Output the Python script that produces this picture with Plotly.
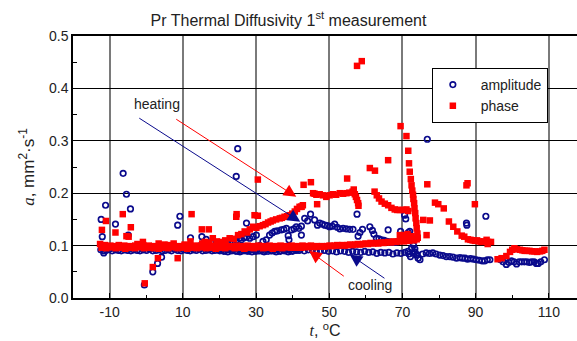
import plotly.graph_objects as go

# ---------------- data ----------------
# amplitude: heating baseline
amp_base_x = [-12.4,-11.6,-10.9,-10.1,-9.3,-8.4,-7.6,-6.8,-5.9,-5.1,
              -4.2,-3.4,-2.5,-1.7,-0.8,0.1,1.0,1.8,2.7,3.5,
              4.4,5.2,6.1,6.9,7.8,8.6,9.5,10.3,11.2,12.0,
              12.9,13.7,14.6,15.4,16.3,17.1,18.0,18.8,19.7,20.5,
              21.4,22.2,23.1,23.9,24.8,25.6,26.5,27.3,28.2,29.0,
              29.9,30.7,31.6,32.4,33.3,34.1,35.0,35.8,36.7,37.5,
              38.4,39.2,40.1,40.9,41.8]
amp_base_y = [0.092,0.090,0.091,0.093,0.090,0.092,0.091,0.090,0.092,0.091,
              0.090,0.092,0.091,0.090,0.092,0.091,0.093,0.090,0.091,0.092,
              0.090,0.091,0.092,0.090,0.093,0.091,0.090,0.092,0.091,0.090,
              0.092,0.091,0.093,0.090,0.091,0.092,0.090,0.091,0.092,0.091,
              0.090,0.092,0.091,0.093,0.090,0.091,0.092,0.090,0.091,0.092,
              0.091,0.090,0.092,0.091,0.093,0.090,0.091,0.092,0.090,0.091,
              0.092,0.091,0.090,0.092,0.091]
# amplitude: cooling baseline
amp_cool_x = [74.0,72.9,71.8,70.7,69.6,68.5,67.4,66.3,65.2,64.1,63.0,
              61.9,60.8,59.7,58.6,57.5,56.4,55.3,54.2,53.1,52.0,
              50.9,49.8,48.7,47.6,46.5,45.4,44.3,43.2,42.1,41.0,
              39.9,38.8,37.7,36.6,35.5,34.4,33.3,32.2,31.1,30.0,
              28.9,27.8,26.7,25.6,24.5,23.4,22.3,21.2,20.1]
amp_cool_y = [0.083,0.086,0.084,0.087,0.085,0.086,0.084,0.087,0.086,0.087,0.085,
              0.088,0.087,0.089,0.087,0.088,0.089,0.087,0.089,0.090,0.088,
              0.090,0.089,0.091,0.090,0.089,0.091,0.092,0.090,0.093,0.091,
              0.089,0.088,0.090,0.089,0.088,0.090,0.089,0.088,0.090,0.089,
              0.088,0.089,0.090,0.088,0.089,0.090,0.088,0.089,0.090]
amp_drop = [(73.0,0.101),(73.4,0.094),(73.4,0.088),(73.8,0.082),(74.3,0.076),
            (74.8,0.073),(72.5,0.095),(71.5,0.089),(72.2,0.079)]
amp_tail = [(75.5,0.084),(76.5,0.086),(77.4,0.085),(78.3,0.086),(79.2,0.084),
            (80.2,0.082),(81.1,0.081),(82.0,0.079),(82.9,0.079),(83.8,0.078),
            (84.8,0.076),(85.7,0.077),(86.4,0.076),(87.1,0.076),(87.8,0.074),
            (88.6,0.075),(89.4,0.074),(90.2,0.073),(91.0,0.072),(91.8,0.071),
            (92.5,0.071),(93.2,0.073),(93.9,0.073),(96.8,0.073),(97.5,0.069),
            (98.4,0.064),(99.1,0.068),(99.8,0.071),(100.5,0.069),(101.2,0.065),
            (101.9,0.069),(102.6,0.069),(103.3,0.069),(104.0,0.069),(104.7,0.068),
            (105.3,0.069),(106.0,0.069),(106.6,0.066),(107.1,0.066),(107.8,0.069),
            (108.8,0.073)]
amp_rise = [(14.8,0.100),(15.5,0.104),(16.4,0.112),(17.3,0.101),(18.2,0.104),
            (19.1,0.103),(20.0,0.105),(20.9,0.104),(21.9,0.107),(22.8,0.106),
            (23.7,0.107),(24.6,0.110),(25.5,0.114),(26.0,0.111),(26.7,0.115),
            (27.4,0.116),(28.3,0.114),(29.2,0.117),(30.1,0.120),(31.0,0.100),
            (31.9,0.108),(32.8,0.111),(33.7,0.120),(34.4,0.124),(35.1,0.127),
            (35.8,0.128),(36.9,0.130),(37.6,0.131),(38.3,0.133),(38.8,0.119),
            (39.0,0.111),(39.7,0.130),(40.4,0.132),(41.0,0.136),(41.7,0.133),
            (42.4,0.137),(42.4,0.120),(43.3,0.152),(44.1,0.147),(44.9,0.160),
            (46.0,0.149),(46.8,0.139),(47.4,0.143),(48.1,0.141),(48.8,0.139),
            (49.5,0.138),(50.1,0.136),(50.8,0.137),(51.5,0.141),(52.2,0.135),
            (52.9,0.132),(53.8,0.133),(54.7,0.132),(55.6,0.131),(56.5,0.131),
            (57.9,0.118),(58.4,0.125),(59.1,0.131),(61.1,0.136),(61.8,0.129),
            (62.2,0.122),(62.9,0.114),(63.6,0.113),(64.3,0.111),(65.0,0.110),
            (65.7,0.108),(66.1,0.130),(66.4,0.107),(67.2,0.106),(67.9,0.106),
            (68.6,0.107),(69.5,0.127),(70.2,0.117),(70.6,0.158),(70.9,0.151),
            (71.6,0.125),(72.0,0.127),(72.2,0.118)]
amp_out = [(-12.3,0.150),(-12.0,0.117),(-11.6,0.086),(-11.1,0.177),(-8.4,0.141),
           (-6.3,0.238),(-5.4,0.198),(-4.9,0.120),(-4.3,0.170),(-0.5,0.025),
           (1.8,0.050),(3.1,0.066),(4.2,0.078),(8.6,0.139),(9.2,0.156),
           (12.1,0.115),(15.2,0.117),(24.6,0.232),(25.0,0.285),(27.4,0.143),
           (76.8,0.303),(87.5,0.143),(87.6,0.139),(92.8,0.156),(57.6,0.160)]

# phase: heating baseline (two passes)
ph_base_x = [-12.6,-12.0,-11.3,-10.5,-9.8,-9.0,-8.3,-7.5,-6.8,-6.0,
             -5.3,-4.5,-3.8,-3.0,-2.3,-1.5,-0.8,0.0,0.7,1.5,
             2.2,3.0,3.7,4.5,5.2,6.0,6.7,7.5,8.2,9.0,
             9.7,10.5,11.2,12.0,12.7,13.5,14.2,15.0,15.7,16.5,
             17.2,18.0,18.7,19.5,20.2,21.0,21.7,22.5,23.2,24.0,
             24.7,25.5,26.2,27.0,27.7,28.5,29.2,30.0,30.7,31.5,
             32.2,33.0,33.7,34.5,35.2,36.0,36.7,37.5,38.2,39.0,
             39.7,40.5,41.2,42.0,42.7,43.5,44.2,45.0]
ph_base_y = [0.103,0.099,0.101,0.098,0.100,0.097,0.099,0.101,0.098,0.100,
             0.097,0.099,0.098,0.100,0.097,0.099,0.101,0.098,0.100,0.097,
             0.099,0.098,0.100,0.097,0.099,0.101,0.098,0.100,0.097,0.099,
             0.098,0.100,0.097,0.099,0.098,0.100,0.099,0.097,0.100,0.098,
             0.099,0.097,0.100,0.098,0.099,0.097,0.100,0.098,0.099,0.097,
             0.100,0.098,0.099,0.097,0.100,0.098,0.099,0.097,0.100,0.098,
             0.099,0.097,0.100,0.098,0.099,0.097,0.100,0.098,0.099,0.097,
             0.100,0.098,0.099,0.097,0.100,0.098,0.099,0.100]
ph_base2_x = [-12.2,-10.9,-9.6,-8.3,-7.0,-5.7,-4.4,-3.1,-1.8,-0.5,
              0.8,2.1,3.4,4.7,6.0,7.3,8.6,9.9,11.2,12.5,
              13.8,15.1,16.4,17.7,19.0,20.3,21.6,22.9,24.2,25.5,
              26.8,28.1,29.4,30.7,32.0,33.3,34.6,35.9,37.2,38.5,
              39.8]
ph_base2_y = [0.096,0.095,0.097,0.095,0.096,0.094,0.096,0.095,0.097,0.095,
              0.096,0.095,0.094,0.096,0.095,0.097,0.095,0.096,0.094,0.096,
              0.095,0.097,0.095,0.096,0.094,0.096,0.095,0.097,0.095,0.096,
              0.094,0.096,0.095,0.097,0.095,0.096,0.094,0.096,0.095,0.097,
              0.096]
# phase: cooling line
ph_cool_x = [73.9,73.2,72.5,71.8,71.1,70.4,69.7,69.0,68.3,67.6,
             66.9,66.2,65.5,64.8,64.1,63.4,62.7,62.0,61.3,60.6,
             59.9,59.2,58.5,57.8,57.1,56.4,55.7,55.0,54.3,53.6,
             52.9,52.2,51.5,50.8,50.1,49.4,48.7,48.0,47.3,46.6,
             45.9,45.2,44.5,43.8,43.1,42.4,41.7,41.0,40.3,39.6]
ph_cool_y = [0.112,0.110,0.111,0.109,0.110,0.108,0.109,0.108,0.107,0.108,
             0.106,0.107,0.106,0.105,0.106,0.104,0.105,0.104,0.105,0.103,
             0.104,0.103,0.102,0.103,0.102,0.101,0.102,0.101,0.100,0.101,
             0.100,0.101,0.100,0.099,0.100,0.099,0.098,0.099,0.098,0.099,
             0.097,0.098,0.097,0.098,0.097,0.096,0.097,0.096,0.097,0.096]
ph_rise = [(15.3,0.104),(16.0,0.107),(17.1,0.106),(18.2,0.114),(19.3,0.108),
           (20.5,0.107),(21.6,0.110),(22.8,0.114),(23.9,0.113),(25.1,0.120),
           (26.0,0.122),(26.9,0.127),(27.6,0.125),(28.3,0.131),(29.2,0.136),
           (30.1,0.134),(31.0,0.137),(31.9,0.139),(32.6,0.141),(33.3,0.144),
           (34.0,0.146),(34.6,0.148),(35.5,0.150),(36.5,0.152),(37.1,0.153),
           (37.8,0.155),(38.5,0.156),(39.2,0.158),(39.9,0.161),(40.6,0.165),
           (41.2,0.170),(41.9,0.174),(42.4,0.174),(42.8,0.177)]
ph_upper = [(45.6,0.200),(46.0,0.199),(46.5,0.197),(47.4,0.198),(48.3,0.196),
            (49.2,0.193),(50.1,0.196),(51.0,0.198),(51.9,0.197),(52.9,0.200),
            (53.8,0.199),(54.7,0.200),(55.5,0.201),(56.4,0.203),(56.7,0.207),
            (57.0,0.198),(57.3,0.193),(57.6,0.187),(57.9,0.181),(58.0,0.176),
            (62.4,0.203),(63.0,0.196),(63.6,0.190),(64.3,0.184),(65.2,0.180),
            (66.1,0.177),(67.0,0.172),(67.9,0.169),(68.6,0.168),(69.3,0.168),
            (70.2,0.168),(71.1,0.169),(71.6,0.166)]
ph_spike = [(69.5,0.328),(71.1,0.309),(71.6,0.281),(71.8,0.257),(72.0,0.241),
            (72.3,0.227),(72.5,0.215),(72.7,0.205),(72.9,0.197),(73.0,0.189),
            (73.2,0.181),(73.3,0.171),(73.5,0.162),(73.6,0.152),(73.8,0.143),
            (73.9,0.133),(74.1,0.123),(74.2,0.115),(69.3,0.120),(70.2,0.120),
            (70.6,0.118),(71.4,0.122),(72.0,0.115),(72.5,0.118),(73.0,0.113)]
ph_post = [(75.7,0.149),(76.6,0.120),(77.5,0.148),(78.9,0.182),(79.8,0.179),
           (81.3,0.171),(82.7,0.146),(83.9,0.136),(85.0,0.127),(86.2,0.119),
           (86.9,0.117),(87.9,0.112),(88.6,0.111),(89.2,0.110),(89.8,0.109),
           (90.4,0.110),(91.0,0.108),(91.6,0.107),(92.3,0.108),(93.0,0.111),
           (93.3,0.103),(93.4,0.107),(94.2,0.107)]
ph_tail = [(96.0,0.074),(97.1,0.076),(98.4,0.080),(99.4,0.088),(100.0,0.092),
           (100.6,0.095),(101.3,0.093),(102.1,0.092),(102.8,0.091),(103.4,0.090),
           (104.0,0.090),(104.7,0.090),(105.4,0.089),(106.1,0.089),(106.8,0.088),
           (107.6,0.089),(108.2,0.090),(108.8,0.092)]
ph_out = [(-12.1,0.130),(-11.0,0.147),(-8.4,0.125),(-6.4,0.160),(-5.4,0.118),
          (-4.8,0.117),(-4.2,0.135),(-0.9,0.107),(-0.4,0.028),(1.8,0.059),
          (3.2,0.076),(3.4,0.104),(7.5,0.104),(8.6,0.076),(12.1,0.108),
          (12.4,0.160),(15.2,0.131),(17.1,0.131),(24.6,0.155),(24.7,0.160),
          (29.6,0.158),(30.5,0.157),(30.5,0.226),(43.0,0.216),(45.0,0.221),
          (54.9,0.228),(57.6,0.443),(58.9,0.452),(61.1,0.248),(62.5,0.243),
          (66.1,0.263),(76.8,0.217),(87.5,0.215),(87.8,0.219),(89.8,0.179),
          (46.7,0.179),(42.4,0.174),(10.5,0.102),(5.0,0.102),(-2.4,0.103)]

x_tick_vals = [-10, 10, 30, 50, 70, 90, 110]
y_tick_vals = [0.0, 0.1, 0.2, 0.3, 0.4, 0.5]

# ---------------- assemble ----------------
def unzip(pairs):
    return [p[0] for p in pairs], [p[1] for p in pairs]

amp_x, amp_y = list(amp_base_x) + list(amp_cool_x), list(amp_base_y) + list(amp_cool_y)
for seg in (amp_drop, amp_tail, amp_rise, amp_out):
    sx, sy = unzip(seg)
    amp_x += sx
    amp_y += sy

ph_x = list(ph_base_x) + list(ph_base2_x) + list(ph_cool_x)
ph_y = list(ph_base_y) + list(ph_base2_y) + list(ph_cool_y)
for seg in (ph_rise, ph_upper, ph_spike, ph_post, ph_tail, ph_out):
    sx, sy = unzip(seg)
    ph_x += sx
    ph_y += sy

FONT = "Liberation Sans, Arial, sans-serif"
SERIF = "Liberation Serif"
NAVY = "#0a0a8c"
RED = "#ff0000"

fig = go.Figure()
fig.add_trace(go.Scatter(
    x=amp_x, y=amp_y, mode="markers", name="\u00a0\u00a0amplitude",
    marker=dict(symbol="circle-open", size=5.5, color=NAVY, line=dict(width=1.7, color=NAVY)),
))
fig.add_trace(go.Scatter(
    x=ph_x, y=ph_y, mode="markers", name="\u00a0\u00a0phase",
    marker=dict(symbol="square", size=6.5, color=RED, line=dict(width=0)),
))

# arrows and labels
arrows = [
    dict(x=42.1, y=0.1456, ax=-2.3, ay=0.345, color=NAVY),
    dict(x=41.0, y=0.193, ax=7.8, ay=0.343, color=RED),
    dict(x=44.5, y=0.090, ax=54.4, ay=0.0395, color=RED),
    dict(x=55.6, y=0.083, ax=65.5, ay=0.0357, color=NAVY),
]
for a in arrows:
    fig.add_annotation(x=a["x"], y=a["y"], ax=a["ax"], ay=a["ay"],
                       xref="x", yref="y", axref="x", ayref="y",
                       text="", showarrow=True, arrowhead=2, arrowsize=2.5,
                       arrowwidth=1, arrowcolor=a["color"], standoff=0)
fig.add_annotation(x=2.9, y=0.370, text="heating", showarrow=False,
                   font=dict(family=FONT, size=14, color="#222"))
fig.add_annotation(x=61.1, y=0.025, text="cooling", showarrow=False,
                   font=dict(family=FONT, size=14, color="#222"))

fig.update_layout(
    width=577, height=341,
    margin=dict(l=73, r=0, t=36, b=43),
    paper_bgcolor="white", plot_bgcolor="white",
    font=dict(family=FONT, size=14, color="#222"),
    title=dict(text="Pr Thermal Diffusivity 1<sup>st</sup> measurement",
               x=0.5, xref="container", xanchor="center", y=1 - 20 / 341, yanchor="middle",
               font=dict(family=FONT, size=16, color="#222")),
    showlegend=True,
    legend=dict(x=0.712, y=0.878, xanchor="left", yanchor="top",
                bgcolor="white", bordercolor="black", borderwidth=1,
                font=dict(family=FONT, size=14, color="#222"),
                tracegroupgap=0, itemwidth=30),
)
fig.update_xaxes(
    range=[-20, 117.7], tickvals=x_tick_vals, ticktext=[str(v) for v in x_tick_vals],
    showgrid=True, gridcolor="#7a7a7a", gridwidth=2, zeroline=False,
    showline=True, linecolor="black", linewidth=1.5, mirror=True,
    ticks="inside", ticklen=5, tickcolor="black",
    minor=dict(tickvals=[0, 20, 40, 60, 80, 100], ticks="inside", ticklen=3,
               tickcolor="black", showgrid=False),
    title=dict(text="<span style='font-family:" + SERIF + "'><i>t</i></span>, <sup>o</sup>C",
               standoff=2, font=dict(size=16)),
    tickfont=dict(size=14),
)
fig.update_yaxes(
    range=[0, 0.5], tickvals=y_tick_vals, ticktext=["%.1f" % v for v in y_tick_vals],
    showgrid=True, gridcolor="black", gridwidth=1, zeroline=False,
    showline=True, linecolor="black", linewidth=1.5, mirror=False,
    ticks="inside", ticklen=5, tickcolor="black",
    minor=dict(tickvals=[0.05, 0.15, 0.25, 0.35, 0.45], ticks="inside", ticklen=4,
               tickcolor="black", showgrid=False),
    title=dict(text="<span style='font-family:" + SERIF + "'><i>a</i></span>, mm<sup>2</sup>·s<sup>-1</sup>",
               standoff=10, font=dict(size=17)),
    tickfont=dict(size=14),
)

fig.write_html("out.html")
